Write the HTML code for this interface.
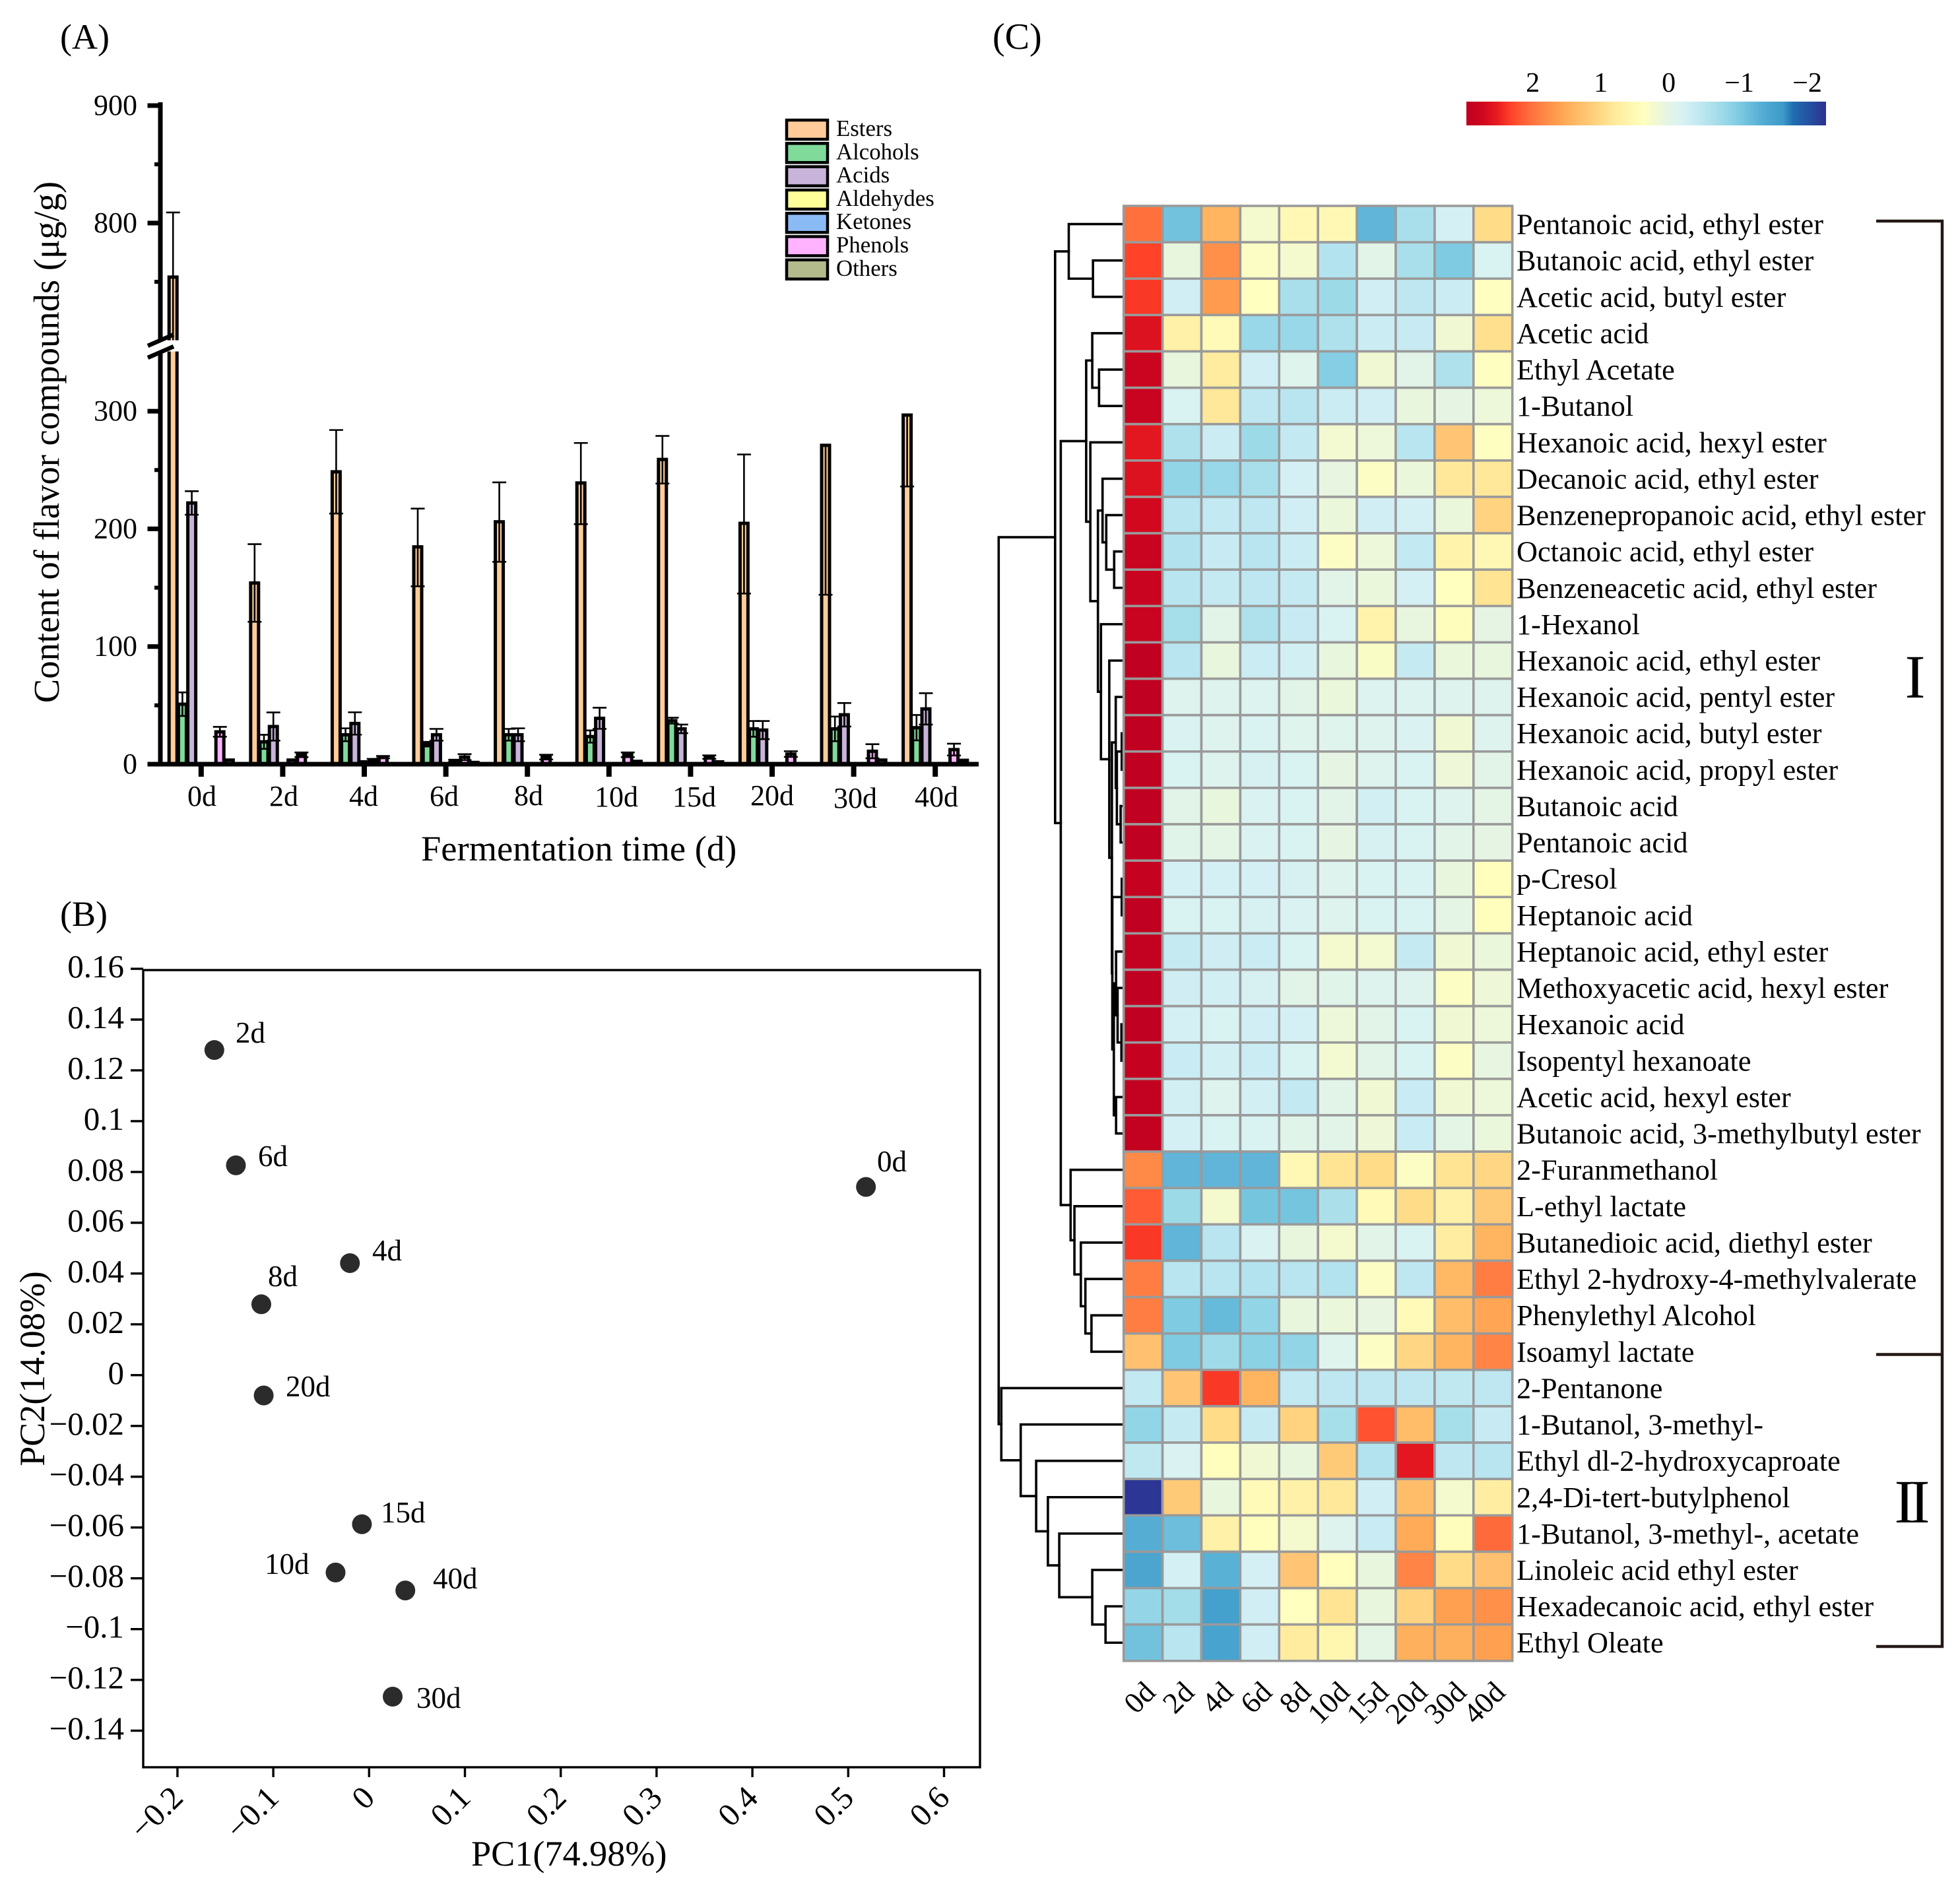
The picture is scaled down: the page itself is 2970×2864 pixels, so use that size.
<!DOCTYPE html>
<html lang="en">
<head>
<meta charset="utf-8">
<title>Flavor compounds during fermentation</title>
<style>
html,body{margin:0;padding:0;background:#fff;}
svg{display:block;}
text{font-family:"Liberation Serif","Noto Serif CJK SC",serif;fill:#000;}
</style>
</head>
<body>
<svg id="fig" xmlns="http://www.w3.org/2000/svg" width="2970" height="2864" viewBox="0 0 2970 2864">
  <rect x="0" y="0" width="2970" height="2864" fill="#fff"/>
  <defs><linearGradient id="cbGrad" x1="0" y1="0" x2="1" y2="0"></linearGradient></defs>

  <text x="91" y="74" font-size="54">(A)</text>
  <text x="91" y="1403" font-size="54">(B)</text>
  <text x="1504" y="74" font-size="56">(C)</text>

  <g id="panelA"></g>
  <text transform="translate(89,670) rotate(-90)" text-anchor="middle" font-size="54.6">Content of flavor compounds (μg/g)</text>
  <text x="638" y="1304" font-size="54.5">Fermentation time (d)</text>
  <g font-size="44" text-anchor="middle">
    <text x="306" y="1221">0d</text>
    <text x="430" y="1221">2d</text>
    <text x="551" y="1221">4d</text>
    <text x="673" y="1221">6d</text>
    <text x="801" y="1220">8d</text>
    <text x="934" y="1222">10d</text>
    <text x="1052" y="1222">15d</text>
    <text x="1170" y="1220">20d</text>
    <text x="1296" y="1224">30d</text>
    <text x="1419" y="1222">40d</text>
  </g>
  <g id="legendA"></g>

  <g id="panelB"></g>
  <text x="714" y="2827" font-size="54.2">PC1(74.98%)</text>
  <text transform="translate(67,2074) rotate(-90)" text-anchor="middle" font-size="54">PC2(14.08%)</text>
  <g font-size="45">
    <text x="1329" y="1775">0d</text>
    <text x="357" y="1580">2d</text>
    <text x="564" y="1910">4d</text>
    <text x="391" y="1767">6d</text>
    <text x="406" y="1949">8d</text>
    <text x="401" y="2385">10d</text>
    <text x="577" y="2307">15d</text>
    <text x="433" y="2116">20d</text>
    <text x="631" y="2588">30d</text>
    <text x="656" y="2407">40d</text>
  </g>

  <g id="colorbar"></g>
  <g id="dendro" fill="none" stroke="#000" stroke-width="3.6" stroke-linecap="square"></g>
  <g id="heat"></g>

  <g fill="none" stroke="#231815" stroke-width="4.5">
    <path d="M2843 335H2943V2495H2843"/>
    <path d="M2843 2052.5H2943"/>
  </g>
  <text x="2902" y="1057" text-anchor="middle" font-size="93">I</text>
  <text x="2870.5" y="2307" font-size="93" letter-spacing="-8">II</text>
</svg>

<script>
/* ---------- Panel A data (µg/g) ---------- */
const categoriesA = ['0d','2d','4d','6d','8d','10d','15d','20d','30d','40d'];
const seriesNames = ['Esters','Alcohols','Acids','Aldehydes','Ketones','Phenols','Others'];
const seriesColors = ['#FFCC99','#80DA9A','#C8B4DA','#FFFF99','#8ABBF5','#FFB3FF','#B3BB8C'];
const esters    = [754,154,248.5,184.7,206,239,259,204.7,271,296.7];
const alcohols  = [51,19,25,17,25,23.5,37,30,30,31];
const acids     = [222,32,34.6,25,25,39,30,29,42,47];
const aldehydes = [0,0,2,0,0,0,0,0,0,0];
const ketones   = [0,3.5,3.5,3,0,0,0,0,0,0];
const phenols   = [27.5,8,6,6,6,8,6,8.6,11,12.4];
const others    = [3.5,0,0,1.5,0.5,2.4,2,0,3.5,3.3];
const estersErrUp   = [55,33,35.5,32.5,33.5,34,20,58.5,0,0];
const estersErrDown = [55,33,35.5,33.5,34,35,20.5,59.7,127,60.7];
const alcoholsErr = [10,6,5.5,2,5,5.2,2.5,6.7,10.5,10.8];
const acidsErr    = [10,12,9.5,5,5.5,9,3.7,7.7,10,13.3];
const aldehydesErr= [0,0,0,0,0,0,0,0,0,0];
const ketonesErr  = [0,0,1,0.8,0,0,0,0,0,0];
const phenolsErr  = [4.2,2,1,2.5,2,2,1.5,2.4,6,5];
const othersErr   = [0,0,0,0,0,0,0,0,0,0];
const yMajorA = [0,100,200,300,800,900];
const yMinorA = [50,150,250,750,850];

/* ---------- Panel B data ---------- */
const pcaNames = ['0d','2d','4d','6d','8d','10d','15d','20d','30d','40d'];
const pc1 = [0.5185,-0.1615,-0.020,-0.139,-0.1125,-0.035,-0.0075,-0.110,0.0246,0.0378];
const pc2 = [0.0741,0.128,0.0441,0.0826,0.0279,-0.0777,-0.0587,-0.008,-0.1266,-0.0848];
const xTicksB = [-0.2,-0.1,0,0.1,0.2,0.3,0.4,0.5,0.6];
const yTicksB = [0.16,0.14,0.12,0.1,0.08,0.06,0.04,0.02,0,-0.02,-0.04,-0.06,-0.08,-0.1,-0.12,-0.14];

/* ---------- Panel C data (row z-scores) ---------- */
const heatCols = ['0d','2d','4d','6d','8d','10d','15d','20d','30d','40d'];
const heatRows = ['Pentanoic acid, ethyl ester','Butanoic acid, ethyl ester','Acetic acid, butyl ester','Acetic acid','Ethyl Acetate','1-Butanol','Hexanoic acid, hexyl ester','Decanoic acid, ethyl ester','Benzenepropanoic acid, ethyl ester','Octanoic acid, ethyl ester','Benzeneacetic acid, ethyl ester','1-Hexanol','Hexanoic acid, ethyl ester','Hexanoic acid, pentyl ester','Hexanoic acid, butyl ester','Hexanoic acid, propyl ester','Butanoic acid','Pentanoic acid','p-Cresol','Heptanoic acid','Heptanoic acid, ethyl ester','Methoxyacetic acid, hexyl ester','Hexanoic acid','Isopentyl hexanoate','Acetic acid, hexyl ester','Butanoic acid, 3-methylbutyl ester','2-Furanmethanol','L-ethyl lactate','Butanedioic acid, diethyl ester','Ethyl 2-hydroxy-4-methylvalerate','Phenylethyl Alcohol','Isoamyl lactate','2-Pentanone','1-Butanol, 3-methyl-','Ethyl dl-2-hydroxycaproate','2,4-Di-tert-butylphenol','1-Butanol, 3-methyl-, acetate','Linoleic acid ethyl ester','Hexadecanoic acid, ethyl ester','Ethyl Oleate'];
const heatValues = [
[2.0,-1.15,1.4,0.2,0.5,0.5,-1.3,-0.7,-0.25,0.95],
[2.3,0.05,1.75,0.3,0.2,-0.6,-0.05,-0.7,-1.05,-0.2],
[2.35,-0.3,1.65,0.35,-0.7,-0.8,-0.3,-0.5,-0.35,0.33],
[2.6,0.65,0.45,-0.85,-0.85,-0.65,-0.35,-0.4,0.15,0.9],
[2.8,0.05,0.75,-0.3,-0.1,-1.0,0.15,-0.05,-0.65,0.33],
[2.85,-0.2,0.8,-0.5,-0.55,-0.35,-0.3,0.05,0,0.1],
[2.55,-0.65,-0.35,-0.8,-0.45,0.18,0.1,-0.55,1.2,0.33],
[2.6,-0.9,-0.85,-0.7,-0.25,0.02,0.3,0.08,0.8,0.8],
[2.7,-0.55,-0.45,-0.5,-0.3,0.08,-0.3,-0.25,0.08,1.05],
[2.85,-0.62,-0.4,-0.55,-0.35,0.3,0.1,-0.45,0.6,0.5],
[2.85,-0.55,-0.42,-0.5,-0.42,-0.05,0.08,-0.25,0.35,0.85],
[2.85,-0.72,-0.05,-0.65,-0.4,-0.2,0.6,0.03,0.4,0],
[2.95,-0.55,0.05,-0.35,-0.28,0.05,0.28,-0.42,0.08,0.05],
[2.95,-0.12,-0.12,-0.15,-0.05,0.08,-0.15,-0.15,-0.12,-0.12],
[2.95,-0.18,-0.12,-0.2,-0.1,-0.1,-0.12,-0.18,0.15,-0.12],
[2.95,-0.2,-0.12,-0.22,-0.2,0,-0.12,-0.2,0.12,-0.05],
[2.95,-0.05,0.05,-0.18,-0.2,-0.05,-0.28,-0.2,-0.12,-0.02],
[2.95,-0.06,-0.02,-0.18,-0.2,0,-0.22,-0.2,-0.05,0],
[2.9,-0.25,-0.25,-0.25,-0.22,-0.12,-0.2,-0.2,0.05,0.38],
[2.95,-0.2,-0.2,-0.22,-0.18,-0.12,-0.2,-0.2,-0.02,0.38],
[2.92,-0.42,-0.32,-0.35,-0.2,0.2,0.18,-0.42,0.15,0.08],
[2.95,-0.32,-0.28,-0.22,-0.05,-0.08,-0.12,-0.12,0.3,0.12],
[2.95,-0.25,-0.2,-0.3,-0.25,0.1,-0.05,-0.2,0.15,0.1],
[2.9,-0.38,-0.28,-0.35,-0.2,0.18,-0.05,-0.2,0.3,0.02],
[2.92,-0.28,-0.12,-0.28,-0.45,-0.05,0.15,-0.38,0.15,0.1],
[2.92,-0.25,-0.2,-0.2,-0.08,-0.05,0.12,-0.38,-0.02,0.08],
[1.8,-1.3,-1.3,-1.3,0.5,0.85,0.95,0.3,0.85,1.0],
[2.15,-0.8,0.2,-1.12,-1.12,-0.68,0.45,0.95,0.65,1.15],
[2.35,-1.3,-0.55,-0.18,0.05,0.2,-0.05,-0.2,0.7,1.4],
[1.9,-0.55,-0.55,-0.6,-0.55,-0.6,0.3,-0.5,1.35,1.9],
[1.9,-1.05,-1.25,-0.9,0.05,0.08,0.02,0.45,1.3,1.55],
[1.25,-1.05,-0.78,-0.95,-0.9,-0.1,0.3,1.0,1.4,1.85],
[-0.45,1.2,2.35,1.4,-0.45,-0.5,-0.5,-0.5,-0.48,-0.5],
[-0.9,-0.42,0.95,-0.42,1.05,-0.72,2.2,1.3,-0.72,-0.4],
[-0.48,-0.18,0.38,0.15,0.05,1.15,-0.6,2.55,-0.5,-0.55],
[-2.3,1.15,0.05,0.45,0.65,0.8,-0.3,1.3,0.2,0.7],
[-1.4,-1.2,0.65,0.38,0.2,-0.12,-0.38,1.5,0.4,2.05],
[-1.5,-0.25,-1.35,-0.25,1.2,0.38,0.05,1.85,0.95,1.25],
[-0.88,-0.75,-1.6,-0.3,0.35,0.85,0.05,1.05,1.6,1.75],
[-1.15,-0.55,-1.55,-0.3,0.75,0.55,-0.02,1.45,1.45,1.6]
];
const colorTicks = [2,1,0,-1,-2];
/* merge tree: [merge distance, child, child]; a number child is a row index */
const clusterA = [83.2, 0, [46.5, 1, 2]];
const clusterB = [56.8, [47.6, 3, [37.3, 4, 5]],
  [50.5, 6, [39, [32, 7, [26.4, 8, [14.4, 9, 10]]],
    [34.4, 11, [21.8, 12, [17.8,
      [12, 13, [10.3, [2.9, 14, 15], [4.6, 16, 17]]],
      [17.2, [2.9, 18, 19], [14.9, [11.5, 20, [9.2, 21, [3.4, 22, 23]]], [11.5, 24, 25]]]
    ]]]
  ]]];
const clusterZ = [80.4, 26, [74.6, 27, [64.9, 28, [58, 29, [48.8, 30, 31]]]]];
const clusterI = [103.9, clusterA, [95.3, clusterB, clusterZ]];
const clusterII = [185.4, 32, [156, 33, [132.6, 34, [114.8, 35, [97.6, 36, [47.6, 37, [27.5, 38, 39]]]]]]];
const dendrogramRoot = [189.4, clusterI, clusterII];

/* ---------- helpers ---------- */
const NS = 'http://www.w3.org/2000/svg';
function mk(tag, attrs, parent, txt) {
  const el = document.createElementNS(NS, tag);
  for (const k in attrs) el.setAttribute(k, attrs[k]);
  if (txt !== undefined) el.textContent = txt;
  parent.appendChild(el);
  return el;
}
function nm(s) { return String(s).toLowerCase().replace(/[^a-z0-9]+/g, '-').replace(/^-|-$/g, ''); }

/* ---------- Panel A ---------- */
const gA = document.getElementById('panelA');
function xA(i) { return 304.8 + i * 123.6; }
function yA(v) { return v <= 350 ? 1158 - v * 1.783 : 338 - (v - 800) * 1.78; }
const seriesValues = [esters, alcohols, acids, aldehydes, ketones, phenols, others];
const seriesErrUp = [estersErrUp, alcoholsErr, acidsErr, aldehydesErr, ketonesErr, phenolsErr, othersErr];
const seriesErrDown = [estersErrDown, alcoholsErr, acidsErr, aldehydesErr, ketonesErr, phenolsErr, othersErr];

categoriesA.forEach(function (cat, i) {
  seriesNames.forEach(function (sName, s) {
    const v = seriesValues[s][i];
    if (v <= 0) return;
    const cx = xA(i) + (s - 3) * 14.2;
    const top = yA(v);
    const bar = mk('rect', {x: cx - 6, y: top, width: 12, height: Math.max(1158 - top, 0.5), fill: seriesColors[s], stroke: '#000', 'stroke-width': 5}, gA);
    
    
    const up = seriesErrUp[s][i], down = seriesErrDown[s][i];
    if (up > 0 || down > 0) {
      const yUp = yA(v + up), yDown = yA(v - down);
      const err = mk('path', {
        d: 'M' + cx + ' ' + yUp + 'V' + yDown + (up > 0 ? 'M' + (cx - 10.5) + ' ' + yUp + 'H' + (cx + 10.5) : '') + 'M' + (cx - 10.5) + ' ' + yDown + 'H' + (cx + 10.5),
        fill: 'none', stroke: '#000', 'stroke-width': 2.6
      }, gA);
      
      
    }
  });
});

const axisGap = mk('rect', {x: 226, y: 515.6, width: 50, height: 17, fill: '#fff'}, gA);



const axA = mk('path', {d: 'M243 155V515.6M243 532.6V1161M224 1158H1483', fill: 'none', stroke: '#000', 'stroke-width': 7}, gA);



const breakMark = mk('path', {d: 'M224 524L263 507M224 542L263 525', fill: 'none', stroke: '#000', 'stroke-width': 6.5}, gA);



yMajorA.forEach(function (v) {
  const t = mk('line', {x1: 223.5, x2: 243, y1: yA(v), y2: yA(v), stroke: '#000', 'stroke-width': 7}, gA);
  
  
  const l = mk('text', {x: 208, y: yA(v) + 14, 'text-anchor': 'end', 'font-size': 44}, gA, String(v));
  
  
});
yMinorA.forEach(function (v) {
  const t = mk('line', {x1: 234, x2: 243, y1: yA(v), y2: yA(v), stroke: '#000', 'stroke-width': 6}, gA);
  
  
});
categoriesA.forEach(function (cat, i) {
  const t = mk('line', {x1: xA(i), x2: xA(i), y1: 1158, y2: 1177, stroke: '#000', 'stroke-width': 8}, gA);
  
  
});

const gL = document.getElementById('legendA');
seriesNames.forEach(function (sName, s) {
  const y0 = 182 + s * 35.3;
  const sw = mk('rect', {x: 1192, y: y0, width: 62, height: 29, fill: seriesColors[s], stroke: '#000', 'stroke-width': 4.5}, gL);
  
  
  const tx = mk('text', {x: 1267, y: 206 + s * 35.3, 'font-size': 34.8}, gL, sName);
  
  
});

/* ---------- Panel B ---------- */
const gB = document.getElementById('panelB');
function xB(v) { return 559.3 + v * 1452; }
function yB(v) { return 2083.8 - v * 3848.6; }
const frame = mk('rect', {x: 217, y: 1470, width: 1268, height: 1208, fill: 'none', stroke: '#000', 'stroke-width': 3.4}, gB);


function fmtTick(v) { return String(v).replace('-', '\u2212'); }
yTicksB.forEach(function (v) {
  const t = mk('line', {x1: 198, x2: 217, y1: yB(v), y2: yB(v), stroke: '#000', 'stroke-width': 3.4}, gB);
  
  
  const l = mk('text', {x: 188, y: yB(v) + 13, 'text-anchor': 'end', 'font-size': 49}, gB, fmtTick(v));
  
  
});
xTicksB.forEach(function (v) {
  const t = mk('line', {x1: xB(v), x2: xB(v), y1: 2678, y2: 2693, stroke: '#000', 'stroke-width': 3.4}, gB);
  
  
  const l = mk('text', {transform: 'translate(' + (xB(v) + 11) + ',2727) rotate(-45)', 'text-anchor': 'end', 'font-size': 49}, gB, fmtTick(v));
  
  
});
pcaNames.forEach(function (name, i) {
  const c = mk('circle', {cx: xB(pc1[i]), cy: yB(pc2[i]), r: 15, fill: '#2b2b2b'}, gB);
  
  
});

/* ---------- Panel C colours ---------- */
const colorStops = [[3.0,'#BE0022'],[2.7,'#D2081F'],[2.5,'#E81C20'],[2.3,'#FF4228'],[2.1,'#FF6338'],[1.8,'#FF8A48'],[1.6,'#FFA050'],[1.4,'#FFB560'],[1.2,'#FFC574'],[0.95,'#FFDC88'],[0.75,'#FFEC9E'],[0.5,'#FFF8B4'],[0.35,'#FFFFBF'],[0.2,'#F4F9CE'],[0.05,'#E9F6DE'],[-0.05,'#E2F4E8'],[-0.15,'#DCF3F0'],[-0.25,'#D5F0F4'],[-0.35,'#CCECF3'],[-0.45,'#C3E9F2'],[-0.55,'#B8E5EF'],[-0.65,'#AEE1EC'],[-0.75,'#A3DDE9'],[-0.9,'#92D5E7'],[-1.05,'#7FCBE2'],[-1.2,'#6CBEDC'],[-1.35,'#5AB1D6'],[-1.5,'#4BA5CF'],[-1.7,'#3D9BC9'],[-1.85,'#1F6EB0'],[-2.33,'#2D3292']];
function hexRgb(h) { return [parseInt(h.slice(1,3),16), parseInt(h.slice(3,5),16), parseInt(h.slice(5,7),16)]; }
function colorOf(z) {
  if (z >= colorStops[0][0]) return colorStops[0][1];
  for (let i = 1; i < colorStops.length; i++) {
    if (z >= colorStops[i][0]) {
      const a = colorStops[i-1], b = colorStops[i];
      const t = (a[0] - z) / (a[0] - b[0]);
      const ca = hexRgb(a[1]), cb = hexRgb(b[1]);
      return 'rgb(' + ca.map(function (c, k) { return Math.round(c + (cb[k] - c) * t); }).join(',') + ')';
    }
  }
  return colorStops[colorStops.length - 1][1];
}

/* colour bar */
const gC = document.getElementById('colorbar');
function xCB(z) { return 2526.6 - z * 103; }
const grad = document.getElementById('cbGrad');
colorStops.forEach(function (st) {
  const off = Math.min(1, Math.max(0, (xCB(st[0]) - 2222) / 545));
  mk('stop', {offset: off, 'stop-color': st[1]}, grad);
});
const cbRect = mk('rect', {x: 2222, y: 154, width: 545, height: 36, fill: 'url(#cbGrad)'}, gC);


colorTicks.forEach(function (z) {
  const l = mk('text', {x: xCB(z) + (z < 0 ? 6 : 2), y: 139, 'text-anchor': 'middle', 'font-size': 42}, gC, fmtTick(z));
  
  
});

/* heat map */
const gH = document.getElementById('heat');
const heatLeft = 1702.7, heatTop = 312, cellW = 58.9, cellH = 55.12;
function xH(c) { return heatLeft + c * cellW; }
function yH(r) { return heatTop + r * cellH; }
heatValues.forEach(function (row, r) {
  row.forEach(function (z, c) {
    const cell = mk('rect', {x: xH(c), y: yH(r), width: cellW, height: cellH, fill: colorOf(z), stroke: '#9a9a9a', 'stroke-width': 3.6}, gH);
    
    
  });
  const lab = mk('text', {x: 2298, y: yH(r) + cellH / 2 + 15, 'font-size': 44.3}, gH, heatRows[r]);
  
  
});
heatCols.forEach(function (name, c) {
  const lab = mk('text', {transform: 'translate(' + (xH(c) + cellW / 2 + 21) + ',2567) rotate(-45)', 'text-anchor': 'end', 'font-size': 45}, gH, name);
  
  
});

/* dendrogram */
const gD = document.getElementById('dendro');
function xD(h) { return heatLeft - h; }
function drawNode(node) {
  if (typeof node === 'number') return {x: heatLeft, y: yH(node) + cellH / 2};
  const a = drawNode(node[1]), b = drawNode(node[2]);
  const x = xD(node[0]);
  const seg = mk('path', {d: 'M' + a.x + ' ' + a.y + 'H' + x + 'V' + b.y + 'H' + b.x}, gD);
  
  
  return {x: x, y: (a.y + b.y) / 2};
}
drawNode(dendrogramRoot);
</script>
</body>
</html>
